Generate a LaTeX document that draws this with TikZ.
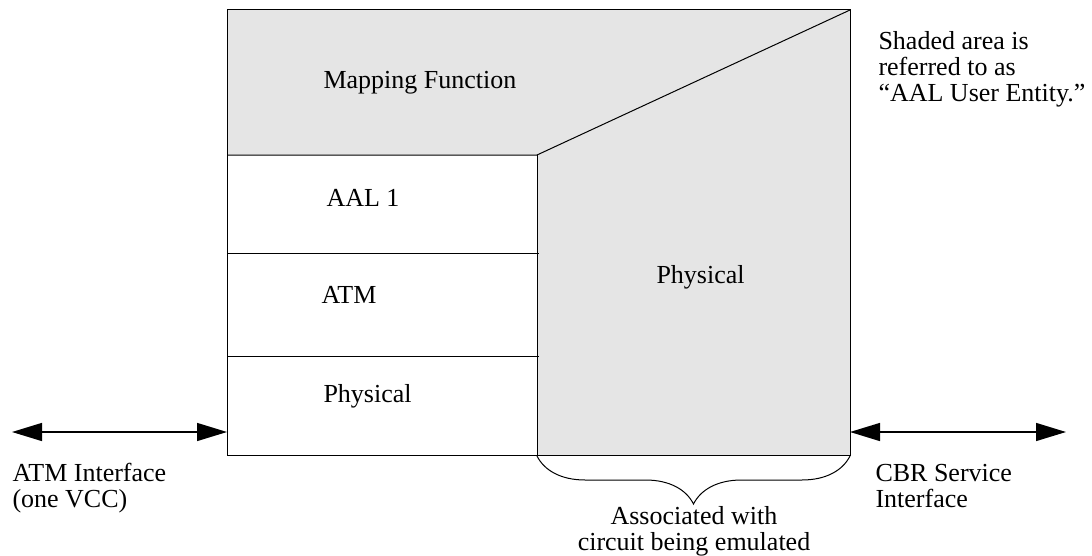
\documentclass[tikz,border=0pt]{standalone}
\usepackage{fontspec}
\setmainfont{Liberation Serif}
\usetikzlibrary{positioning, arrows.meta, decorations.pathreplacing}

\tikzset{
  lbl/.style={anchor=base west, inner sep=0pt, align=left},
  iface/.style={{Triangle[length=15pt,width=9pt]}-{Triangle[length=15pt,width=9pt]}, line width=0.7pt},
  shade/.style={fill=black!10}
}

\begin{document}
\begin{tikzpicture}[x=0.5pt, y=-0.5pt, line width=0.5pt,
  every node/.style={font=\fontsize{13}{13}\selectfont}]
  \useasboundingbox (0,0) rectangle (1092,556);

  % shaded area (AAL user entity)
  \fill[shade] (227,10) -- (850,10) -- (850,455) -- (537,455) -- (537,155) -- (227,155) -- cycle;
  \draw (227,10) rectangle (850,455);
  \draw (227,155) -- (537,155) -- (850,10);
  \draw (537,155) -- (537,455);

  % layers
  \draw (227,253) -- (539,253);
  \draw (227,356) -- (539,356);

  \node[lbl] (map) at (323,89) {Mapping Function};
  \node[lbl] (aal) at (326,206) {AAL 1};
  \node[lbl] (atm) at (321,303) {ATM};
  \node[lbl] (phyl) at (323,402) {Physical};
  \node[lbl] (phyr) at (656,283) {Physical};

  % multi-line texts: base is the last line
  \node[lbl] (note) at (878,102) {Shaded area is\\referred to as\\``AAL User Entity.''};

  % interfaces
  \coordinate (atmend) at (12,432);
  \coordinate (boxl) at (227,432);
  \coordinate (boxr) at (850,432);
  \coordinate (cbrend) at (1066,432);
  \draw[iface] (atmend) -- (boxl);
  \draw[iface] (boxr) -- (cbrend);

  \node[lbl] (atmif) at (12,507) {ATM Interface\\(one VCC)};
  \node[lbl] (cbrif) at (875,507) {CBR Service\\Interface};

  % circuit brace
  \coordinate (bl) at (537,456);
  \coordinate (br) at (850,456);
  \draw[decorate, decoration={brace, mirror, amplitude=24pt}] (bl) -- (br);
  \node[anchor=base, align=center, inner sep=0pt] (assoc) at (694,550) {Associated with\\circuit being emulated};
\end{tikzpicture}
\end{document}
